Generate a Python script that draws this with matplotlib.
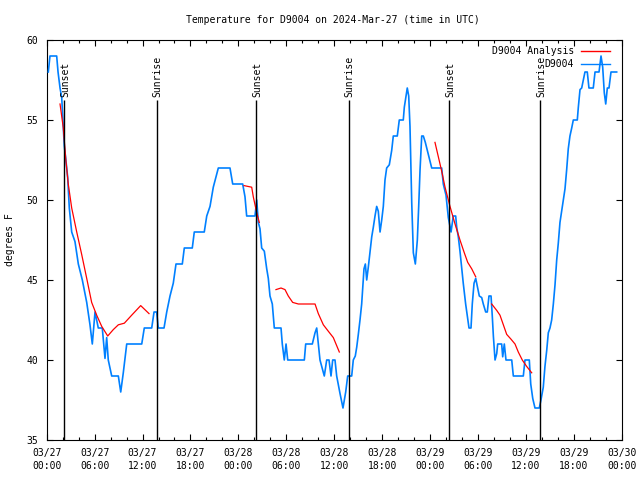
import matplotlib
matplotlib.use("Agg")
import matplotlib.pyplot as plt
from matplotlib.ticker import MultipleLocator, FixedLocator, FixedFormatter

# ---- data (hours since 2024-03-27 00:00 UTC) ----
obs_hours = [0.20, 0.41, 1.25, 1.42, 1.67, 1.88, 2.20, 2.38, 2.63, 2.83, 3.13, 3.54, 3.96, 4.46,
             5.01, 5.42, 5.71, 6.05, 6.46, 6.96, 7.30, 7.51, 7.71, 8.14, 8.97, 9.27, 9.59, 10.02,
             11.90, 12.22, 13.15, 13.44, 13.77, 13.97, 14.69, 15.03, 15.44, 15.85, 16.19, 16.98,
             17.23, 18.23, 18.48, 19.73, 20.04, 20.45, 20.86, 21.49, 22.95, 23.29, 24.54, 24.83,
             25.04, 26.08, 26.30, 26.50, 26.71, 26.92, 27.25, 27.55, 27.75, 27.96, 28.25, 28.50,
             29.34, 29.50, 29.75, 29.97, 30.18, 32.26, 32.43, 33.26, 33.60, 33.81, 34.01, 34.22,
             34.76, 35.06, 35.35, 35.60, 35.81, 36.10, 36.31, 36.73, 37.10, 37.44, 37.69, 38.19,
             38.39, 38.64, 38.82, 39.02, 39.23, 39.44, 39.57, 39.73, 39.90, 40.07, 40.27, 40.48,
             40.70, 40.90, 41.11, 41.32, 41.52, 41.74, 41.95, 42.15, 42.36, 42.57, 42.90, 43.20,
             43.40, 43.90, 44.15, 44.65, 44.78, 44.99, 45.15, 45.33, 45.49, 45.71, 45.91, 46.16,
             46.41, 46.58, 46.75, 46.96, 47.16, 47.41, 47.66, 47.91, 48.21, 49.46, 49.66, 50.00,
             50.29, 50.63, 50.79, 50.91, 51.21, 51.34, 51.54, 51.75, 51.96, 52.16, 52.46, 52.72,
             52.88, 53.13, 53.29, 53.51, 53.72, 53.92, 54.17, 54.47, 54.67, 54.97, 55.17, 55.38,
             55.64, 55.80, 55.93, 56.14, 56.35, 56.47, 56.97, 57.10, 57.30, 57.51, 58.23, 58.43,
             59.68, 59.89, 60.43, 60.61, 60.86, 61.14, 61.68, 61.89, 62.18, 62.39, 62.61, 62.81,
             63.02, 63.23, 63.44, 63.65, 63.86, 64.06, 64.27, 64.48, 64.69, 64.90, 65.11, 65.31,
             65.52, 65.74, 65.94, 66.44, 66.57, 66.78, 66.99, 67.19, 67.40, 67.69, 67.90, 68.44,
             68.66, 69.16, 69.41, 69.62, 69.82, 70.00, 70.20, 70.41, 70.66, 71.37]
obs_temps = [58, 59, 59, 58, 57, 56.4, 53.4, 52.6, 51.4, 49.5, 48, 47.4, 46, 45,
             43.6, 42.2, 41, 43, 42, 42, 40.1, 41.4, 40, 39, 39, 38, 39.2, 41,
             41, 42, 42, 43, 43, 42, 42, 43, 44, 44.8, 46, 46,
             47, 47, 48, 48, 49, 49.6, 50.8, 52, 52, 51, 51, 50.2,
             49, 49, 50, 48.6, 48.2, 47, 46.8, 45.7, 45.1, 44, 43.5, 42,
             42, 41, 40, 41, 40, 40, 41, 41, 41.7, 42, 41, 40,
             39, 40, 40, 39, 40, 40, 39, 37.9, 37, 38, 39, 39,
             40, 40.25, 40.8, 41.6, 42.5, 43.5, 44.5, 45.7, 46, 45, 45.8, 46.7,
             47.7, 48.3, 49, 49.6, 49.3, 48, 48.75, 49.6, 51.25, 52, 52.2, 53.1,
             54, 54, 55, 55, 55.8, 56.5, 57, 56.5, 54.6, 49.8, 46.7, 46,
             47.5, 49.6, 51.9, 54, 54, 53.6, 53.1, 52.6, 52, 52, 51, 50.3,
             48.9, 48, 48.6, 49, 49, 48.3, 47.7, 46.8, 45.8, 44.8, 43.5, 42.6,
             42, 42, 43.5, 44.8, 45.1, 44.6, 44, 43.9, 43.5, 43, 43, 44,
             44, 42.7, 41.5, 40, 40.4, 41, 41, 40.2, 41, 40, 40, 39,
             39, 40, 40, 38.5, 37.6, 37, 37, 37.5, 38.3, 39.6, 40.6, 41.7,
             42, 42.5, 43.5, 44.7, 46.25, 47.3, 48.6, 49.3, 50, 50.7, 51.9, 53.2,
             54, 54.5, 55, 55, 55.8, 56.9, 57, 57.5, 58, 58, 57, 57,
             58, 58, 59, 58.3, 56.7, 56, 57, 57, 58, 58]

ana_hours_1 = [1.67, 2.08, 2.38, 2.70, 3.13, 3.76, 4.38, 5.01, 5.63, 6.26, 6.89, 7.64, 8.34,
               8.97, 9.72, 10.64, 11.77, 12.81]
ana_temps_1 = [56, 54.5, 52.6, 51, 49.5, 48, 46.6, 45.1, 43.6, 42.8, 42.1, 41.5, 41.9,
               42.2, 42.3, 42.8, 43.4, 42.9]
ana_hours_2 = [24.71, 25.67, 25.87, 26.30, 26.62]
ana_temps_2 = [50.9, 50.8, 50.2, 49.2, 48.6]
ana_hours_3 = [28.71, 29.34, 29.84, 30.25, 30.80, 31.51, 32.34, 33.60, 34.01, 34.64, 35.26,
               35.89, 36.64]
ana_temps_3 = [44.4, 44.5, 44.4, 44, 43.6, 43.5, 43.5, 43.5, 42.9, 42.2, 41.8, 41.4, 40.5]
ana_hours_4 = [48.62, 49.04, 49.46, 49.88, 50.50, 51.13, 51.75, 52.29, 52.72, 53.22, 53.72]
ana_temps_4 = [53.6, 52.7, 51.8, 50.8, 49.6, 48.5, 47.5, 46.7, 46.1, 45.7, 45.2]
ana_hours_5 = [55.72, 56.35, 56.76, 57.18, 57.60, 58.14, 58.64, 59.05, 59.55, 60.10, 60.73]
ana_temps_5 = [43.5, 43.1, 42.8, 42.2, 41.6, 41.3, 41.0, 40.5, 40, 39.6, 39.2]

sun_hours = [2.13, 13.76, 26.20, 37.80, 50.34, 61.76]
sun_labels = ["Sunset", "Sunrise", "Sunset", "Sunrise", "Sunset", "Sunrise"]

xtick_hours = [0, 6, 12, 18, 24, 30, 36, 42, 48, 54, 60, 66, 72]
xtick_labels = ["03/27\n00:00", "03/27\n06:00", "03/27\n12:00", "03/27\n18:00",
                "03/28\n00:00", "03/28\n06:00", "03/28\n12:00", "03/28\n18:00",
                "03/29\n00:00", "03/29\n06:00", "03/29\n12:00", "03/29\n18:00",
                "03/30\n00:00"]

title = "Temperature for D9004 on 2024-Mar-27 (time in UTC)"
ylabel = "degrees F"
label_ana = "D9004 Analysis"
label_obs = "D9004"

# ---- plot ----
FONT = "DejaVu Sans Mono"
FS = 7
plt.rcParams["font.family"] = FONT

fig = plt.figure(figsize=(6.4, 4.8), dpi=100)
ax = fig.add_axes([46.7 / 640, 40 / 480, 575 / 640, 400 / 480])

red = "#ff0000"
blue = "#0080ff"

ana_segments = [(ana_hours_1, ana_temps_1), (ana_hours_2, ana_temps_2),
                (ana_hours_3, ana_temps_3), (ana_hours_4, ana_temps_4),
                (ana_hours_5, ana_temps_5)]
for i, (h, t) in enumerate(ana_segments):
    ax.plot(h, t, color=red, lw=0.9, zorder=4, label=label_ana if i == 0 else None)
ax.plot(obs_hours, obs_temps, color=blue, lw=1.2, zorder=3, label=label_obs)

ax.vlines(sun_hours, 35, 56.25, color="black", lw=1.0, zorder=5)
for h, lab in zip(sun_hours, sun_labels):
    ax.text(h + 0.15, 56.45, lab, rotation=90, ha="center", va="bottom",
            fontsize=FS, family=FONT, zorder=6)

ax.set_xlim(0, 72)
ax.set_ylim(35, 60)
ax.xaxis.set_major_locator(FixedLocator(xtick_hours))
ax.xaxis.set_major_formatter(FixedFormatter(xtick_labels))
ax.xaxis.set_minor_locator(MultipleLocator(2))
ax.yaxis.set_major_locator(MultipleLocator(5))
ax.tick_params(axis="both", which="major", direction="in", length=4, width=0.8,
               top=True, right=True, labelsize=FS, pad=6)
ax.tick_params(axis="x", which="minor", direction="in", length=2, width=0.8,
               top=True, bottom=True)
for lab in ax.get_xticklabels():
    lab.set_linespacing(1.3)
for s in ax.spines.values():
    s.set_linewidth(0.8)

fig.text(332.5 / 640, 1 - 20 / 480, title, ha="center", va="center", fontsize=FS, family=FONT)
fig.text(10 / 640, 0.5, ylabel, rotation=90, ha="center", va="center", fontsize=FS, family=FONT)

leg = ax.legend(loc="upper right", bbox_to_anchor=(0.98, 0.985), frameon=False,
                markerfirst=False, fontsize=FS, handlelength=3.0, handletextpad=0.7,
                labelspacing=0.3, borderpad=0, borderaxespad=0)
for line in leg.get_lines():
    line.set_linewidth(1.0)

fig.savefig("out.png", dpi=100)
